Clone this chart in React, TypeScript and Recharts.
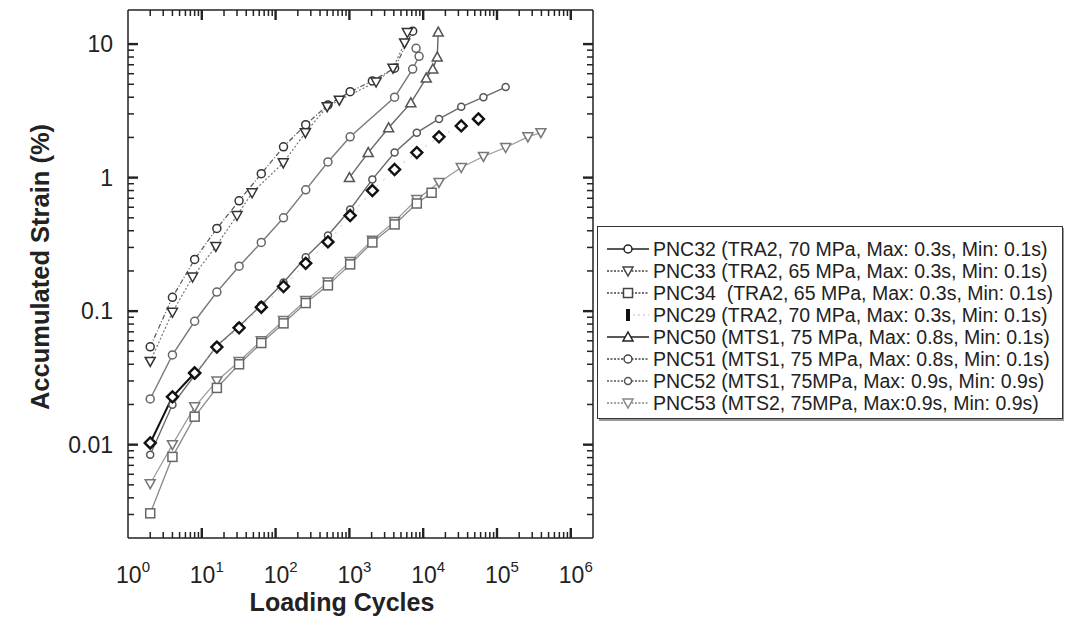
import { LineChart, Line, XAxis, YAxis } from "recharts";

// loading cycles (N) and accumulated strain (%) for each specimen
const pnc32N = [2, 4, 8, 16, 32, 64, 128, 256, 512, 1024, 4096, 7200, 8800, 8000];
const pnc32S = [0.022, 0.047, 0.084, 0.139, 0.217, 0.327, 0.5, 0.81, 1.31, 2.02, 4.0, 6.5, 8.1, 9.3];

const pnc33N = [2, 4, 7.5, 15.5, 30, 48, 127, 253, 500, 730, 2300, 3900, 5600, 6100];
const pnc33S = [0.042, 0.098, 0.18, 0.305, 0.52, 0.77, 1.29, 2.17, 3.4, 3.8, 5.2, 6.6, 10.2, 12.2];

const pnc34N = [2, 4, 8, 16, 32, 64, 128, 256, 512, 1024, 2048, 4096, 8192, 13000];
const pnc34S = [0.00306, 0.0081, 0.0162, 0.0266, 0.04, 0.0577, 0.081, 0.115, 0.156, 0.224, 0.327, 0.446, 0.64, 0.77];

const pnc29N = [2, 4, 8, 16, 32, 64, 128, 256, 512, 1024, 2048, 4096, 8192, 16384, 32768, 56000];
const pnc29S = [0.0103, 0.0228, 0.0344, 0.0538, 0.075, 0.107, 0.153, 0.228, 0.33, 0.52, 0.8, 1.15, 1.54, 2.02, 2.44, 2.75];

const pnc50N = [1000, 1800, 3400, 6800, 11000, 13500, 15500, 16000];
const pnc50S = [1.0, 1.54, 2.36, 3.63, 5.57, 6.5, 8.0, 12.3];

const pnc51N = [2, 4, 8, 16, 32, 64, 128, 256, 512, 1024, 2048, 4096, 7200];
const pnc51S = [0.054, 0.127, 0.244, 0.416, 0.67, 1.07, 1.7, 2.49, 3.5, 4.4, 5.3, 6.6, 12.5];

const pnc52N = [2, 4, 16, 32, 64, 128, 256, 512, 1024, 2048, 4096, 8192, 16384, 32768, 65536, 131072];
const pnc52S = [0.0084, 0.0199, 0.055, 0.077, 0.111, 0.164, 0.253, 0.369, 0.577, 0.97, 1.54, 2.17, 2.75, 3.39, 4.0, 4.77];

const pnc53N = [2, 4, 8, 16, 32, 64, 128, 256, 512, 1024, 2048, 4096, 8192, 16384, 32768, 65536, 131072, 262144, 393216];
const pnc53S = [0.0051, 0.01, 0.0192, 0.03, 0.042, 0.06, 0.085, 0.12, 0.165, 0.235, 0.34, 0.47, 0.685, 0.92, 1.19, 1.44, 1.68, 2.02, 2.17];

const legendNames = [
  "PNC32 (TRA2, 70 MPa, Max: 0.3s, Min: 0.1s)",
  "PNC33 (TRA2, 65 MPa, Max: 0.3s, Min: 0.1s)",
  "PNC34  (TRA2, 65 MPa, Max: 0.3s, Min: 0.1s)",
  "PNC29 (TRA2, 70 MPa, Max: 0.3s, Min: 0.1s)",
  "PNC50 (MTS1, 75 MPa, Max: 0.8s, Min: 0.1s)",
  "PNC51 (MTS1, 75 MPa, Max: 0.8s, Min: 0.1s)",
  "PNC52 (MTS1, 75MPa, Max: 0.9s, Min: 0.9s)",
  "PNC53 (MTS2, 75MPa, Max:0.9s, Min: 0.9s)",
];

const xMajor = [1, 10, 100, 1000, 10000, 100000, 1000000];
const xMajorExp = ["0", "1", "2", "3", "4", "5", "6"];
const yMajor = [0.01, 0.1, 1, 10];
const yMajorLabels = ["0.01", "0.1", "1", "10"];
const minorSteps = [2, 3, 4, 5, 6, 7, 8, 9];

const X_MAX = 2000000;
const Y_MIN = 0.002;
const Y_MAX = 18;

const xTicks = [...xMajor, ...xMajor.flatMap((m) => minorSteps.map((k) => k * m))].filter((v) => v < X_MAX);
const yTicks = [...yMajor, ...[0.001, ...yMajor].flatMap((m) => minorSteps.map((k) => k * m))].filter(
  (v) => v > Y_MIN * 1.2 && v < Y_MAX
);

const pts = (n: number[], s: number[]) => n.map((v, i) => ({ n: v, s: s[i] }));

const ink = "#222";
const font = "'Liberation Sans', Arial, sans-serif";

const majorIndex = (v: number, majors: number[]) => majors.findIndex((m) => Math.abs(v / m - 1) < 1e-6);
const tickLen = (major: boolean) => (major ? 10 : 6);
const tickW = (major: boolean) => (major ? 2.4 : 1.5);

// tickSize/tickMargin are 0, so x/y is the point on the axis line; ticks point inward
function BottomTick(props: any) {
  const { x, y, payload } = props;
  const i = majorIndex(payload.value, xMajor);
  const major = i >= 0;
  return (
    <g>
      {payload.value > 1 && (
        <line x1={x} x2={x} y1={y} y2={y - tickLen(major)} stroke={ink} strokeWidth={tickW(major)} />
      )}
      {major && (
        <text x={x + 5} y={y + 45} textAnchor="middle" fontSize={23} fill={ink} fontFamily={font}>
          10
          <tspan dy={-11} fontSize={15}>
            {xMajorExp[i]}
          </tspan>
        </text>
      )}
    </g>
  );
}

function TopTick(props: any) {
  const { x, y, payload } = props;
  const major = majorIndex(payload.value, xMajor) >= 0;
  if (payload.value <= 1) return <g />;
  return <line x1={x} x2={x} y1={y} y2={y + tickLen(major)} stroke={ink} strokeWidth={tickW(major)} />;
}

function LeftTick(props: any) {
  const { x, y, payload } = props;
  const i = majorIndex(payload.value, yMajor);
  const major = i >= 0;
  return (
    <g>
      <line x1={x} x2={x + tickLen(major)} y1={y} y2={y} stroke={ink} strokeWidth={tickW(major)} />
      {major && (
        <text x={x - 15} y={y + 8} textAnchor="end" fontSize={23} fill={ink} fontFamily={font}>
          {yMajorLabels[i]}
        </text>
      )}
    </g>
  );
}

function RightTick(props: any) {
  const { x, y, payload } = props;
  const major = majorIndex(payload.value, yMajor) >= 0;
  return <line x1={x} x2={x - tickLen(major)} y1={y} y2={y} stroke={ink} strokeWidth={tickW(major)} />;
}

type Shape = "circle" | "smallCircle" | "triDown" | "triUp" | "square" | "diamond";

function marker(shape: Shape, cx: number, cy: number, stroke: string, key?: any) {
  const common = { fill: "#fff", stroke, strokeWidth: 1.5 };
  switch (shape) {
    case "circle":
      return <circle key={key} cx={cx} cy={cy} r={4} {...common} />;
    case "smallCircle":
      return <circle key={key} cx={cx} cy={cy} r={3.5} {...common} />;
    case "triDown":
      return <path key={key} d={`M${cx - 5},${cy - 4} L${cx + 5},${cy - 4} L${cx},${cy + 5} Z`} {...common} />;
    case "triUp":
      return <path key={key} d={`M${cx - 5},${cy + 4} L${cx + 5},${cy + 4} L${cx},${cy - 5} Z`} {...common} />;
    case "square":
      return <rect key={key} x={cx - 4.5} y={cy - 4.5} width={9} height={9} {...common} />;
    case "diamond":
      return (
        <path
          key={key}
          d={`M${cx},${cy - 5.5} L${cx + 5.5},${cy} L${cx},${cy + 5.5} L${cx - 5.5},${cy} Z`}
          fill="#fff"
          stroke="#111"
          strokeWidth={2.4}
        />
      );
  }
}

const dotOf = (shape: Shape, stroke: string) => (p: any) => marker(shape, p.cx, p.cy, stroke, p.key ?? p.index);

const series = [
  { id: "pnc51", data: pts(pnc51N, pnc51S), shape: "circle" as Shape, stroke: "#555", mk: "#333", dash: "5 2 1 2", w: 1.2 },
  { id: "pnc33", data: pts(pnc33N, pnc33S), shape: "triDown" as Shape, stroke: "#777", mk: "#333", dash: "2 2", w: 1.2 },
  { id: "pnc32", data: pts(pnc32N, pnc32S), shape: "circle" as Shape, stroke: "#7a7a7a", mk: "#666", dash: undefined, w: 1.4 },
  { id: "pnc50", data: pts(pnc50N, pnc50S), shape: "triUp" as Shape, stroke: "#666", mk: "#555", dash: undefined, w: 1.4 },
  { id: "pnc52", data: pts(pnc52N, pnc52S), shape: "smallCircle" as Shape, stroke: "#6a6a6a", mk: "#555", dash: undefined, w: 1.4 },
  { id: "pnc53", data: pts(pnc53N, pnc53S), shape: "triDown" as Shape, stroke: "#999", mk: "#777", dash: undefined, w: 1.2 },
  { id: "pnc34", data: pts(pnc34N, pnc34S), shape: "square" as Shape, stroke: "#8a8a8a", mk: "#666", dash: undefined, w: 1.3 },
];

const legendStyles = [
  { shape: "circle" as Shape, stroke: "#222", dash: undefined },
  { shape: "triDown" as Shape, stroke: "#444", dash: "2 1.5" },
  { shape: "square" as Shape, stroke: "#444", dash: "2 1.5" },
  { shape: null, stroke: "#111", dash: "2 3" },
  { shape: "triUp" as Shape, stroke: "#222", dash: undefined },
  { shape: "circle" as Shape, stroke: "#444", dash: "2 1.5" },
  { shape: "smallCircle" as Shape, stroke: "#555", dash: "2 1.5" },
  { shape: "triDown" as Shape, stroke: "#888", dash: "2 1.5" },
];

function LegendBox() {
  return (
    <div
      style={{
        position: "absolute",
        left: 589,
        top: 218,
        width: 466,
        height: 193,
        border: "1.5px solid #333",
        boxShadow: "2px 2px 0 #999",
        background: "#fff",
        paddingTop: 11,
        paddingLeft: 9,
        boxSizing: "border-box",
        fontFamily: font,
        color: ink,
      }}
    >
      {legendNames.map((name, i) => {
        const st = legendStyles[i];
        return (
          <div key={name} style={{ display: "flex", alignItems: "center", height: 22, whiteSpace: "pre" }}>
            <svg width={42} height={22}>
              {st.shape ? (
                <>
                  <line x1={0} x2={42} y1={11} y2={11} stroke={st.stroke} strokeWidth={1.5} strokeDasharray={st.dash} />
                  {marker(st.shape, 21, 11, st.stroke)}
                </>
              ) : (
                <>
                  <line x1={26} x2={42} y1={11} y2={11} stroke="#bbb" strokeWidth={1.2} strokeDasharray="2 3" />
                  <rect x={19} y={5} width={4} height={12} fill="#111" />
                </>
              )}
            </svg>
            <span style={{ fontSize: 19.5, marginLeft: 4, lineHeight: "22px" }}>{name}</span>
          </div>
        );
      })}
    </div>
  );
}

function AxisTitles() {
  return (
    <svg width={1064} height={610} style={{ position: "absolute", left: 0, top: 0, pointerEvents: "none" }}>
      <text x={334} y={603} textAnchor="middle" fontSize={25} fontWeight="bold" fill={ink} fontFamily={font}>
        Loading Cycles
      </text>
      <text
        x={32}
        y={259}
        transform="rotate(-90, 32, 259)"
        textAnchor="middle"
        dominantBaseline="central"
        fontSize={25.5}
        fontWeight="bold"
        fill={ink}
        fontFamily={font}
      >
        Accumulated Strain (%)
      </text>
    </svg>
  );
}

const axisLineStyle = { stroke: ink, strokeWidth: 1.5 };

export default function App() {
  return (
    <div style={{ position: "relative", width: 1064, height: 610, background: "#fff" }}>
      <LineChart width={1064} height={610} margin={{ top: 1, right: 478, left: 0, bottom: 0 }}>
        <XAxis
          xAxisId="b"
          dataKey="n"
          type="number"
          scale="log"
          domain={[1, X_MAX]}
          allowDataOverflow
          ticks={xTicks}
          interval={0}
          tickSize={0}
          tickMargin={0}
          tickLine={false}
          tick={BottomTick}
          height={80}
          axisLine={axisLineStyle}
        />
        <XAxis
          xAxisId="t"
          orientation="top"
          dataKey="n"
          type="number"
          scale="log"
          domain={[1, X_MAX]}
          allowDataOverflow
          ticks={xTicks}
          interval={0}
          tickSize={0}
          tickMargin={0}
          tickLine={false}
          tick={TopTick}
          height={1}
          axisLine={axisLineStyle}
        />
        <YAxis
          yAxisId="l"
          type="number"
          scale="log"
          domain={[Y_MIN, Y_MAX]}
          allowDataOverflow
          ticks={yTicks}
          interval={0}
          tickSize={0}
          tickMargin={0}
          tickLine={false}
          tick={LeftTick}
          width={120}
          axisLine={axisLineStyle}
        />
        <YAxis
          yAxisId="r"
          orientation="right"
          type="number"
          scale="log"
          domain={[Y_MIN, Y_MAX]}
          allowDataOverflow
          ticks={yTicks}
          interval={0}
          tickSize={0}
          tickMargin={0}
          tickLine={false}
          tick={RightTick}
          width={1}
          axisLine={axisLineStyle}
        />
        {series.map((s) => (
          <Line
            key={s.id}
            xAxisId="b"
            yAxisId="l"
            data={s.data}
            dataKey="s"
            type="linear"
            stroke={s.stroke}
            strokeWidth={s.w}
            strokeDasharray={s.dash}
            dot={dotOf(s.shape, s.mk)}
            activeDot={false}
            isAnimationActive={false}
          />
        ))}
        <Line
          key="pnc29-tail"
          xAxisId="b"
          yAxisId="l"
          data={pts(pnc29N, pnc29S).slice(2)}
          dataKey="s"
          type="linear"
          stroke="#bbb"
          strokeWidth={1}
          strokeDasharray="2 7"
          dot={dotOf("diamond", "#111")}
          activeDot={false}
          isAnimationActive={false}
        />
        <Line
          key="pnc29-head"
          xAxisId="b"
          yAxisId="l"
          data={pts(pnc29N, pnc29S).slice(0, 3)}
          dataKey="s"
          type="linear"
          stroke="#111"
          strokeWidth={2}
          dot={dotOf("diamond", "#111")}
          activeDot={false}
          isAnimationActive={false}
        />
      </LineChart>
      <AxisTitles />
      <LegendBox />
    </div>
  );
}
